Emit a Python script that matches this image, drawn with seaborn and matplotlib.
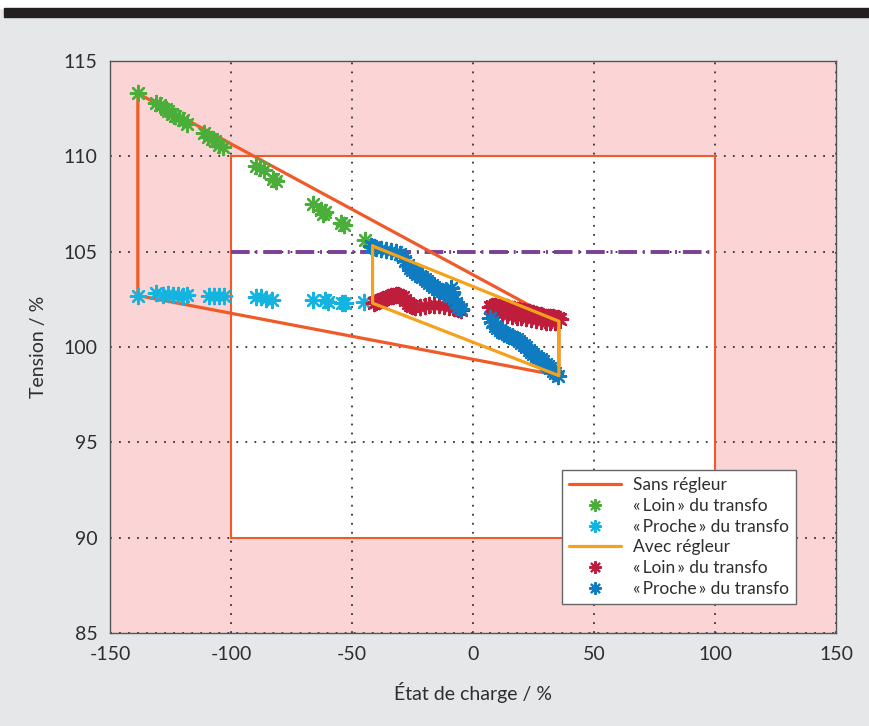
import numpy as np
import pandas as pd
import matplotlib
matplotlib.use('Agg')
import matplotlib.pyplot as plt
from matplotlib.patches import Rectangle
from matplotlib.lines import Line2D
import seaborn as sns

# polygon envelopes
sans_x = [-138.5, -138.5, 35.5, 35.5, -138.5]
sans_y = [113.3, 102.7, 98.5, 101.35, 113.3]
avec_x = [-41.5, -41.5, 35.5, 35.5, -41.5]
avec_y = [105.3, 102.3, 98.5, 101.35, 105.3]

# "Loin" sans regleur
green_x = [-138.5, -131, -129.5, -127, -126, -124.5, -123, -121.5, -120, -118,
           -111, -109.5, -108, -106.5, -105, -103.5, -89.5, -88, -86.5, -82.5,
           -81.5, -66, -63, -62, -61, -54.5, -53.5, -44.5]
green_y = [113.3, 112.8, 112.7, 112.5, 112.4, 112.2, 112.1, 112.0, 111.9, 111.7,
           111.2, 111.0, 110.9, 110.8, 110.6, 110.5, 109.5, 109.4, 109.3, 108.8,
           108.7, 107.5, 107.2, 107.0, 107.1, 106.5, 106.4, 105.6]

# "Proche" sans regleur
cyan_x = [-138.5, -131, -128, -126, -124, -122, -120, -118, -109, -107, -105, -103,
          -89.5, -87.5, -85.5, -83, -66, -61, -60, -54, -53, -45]
cyan_y = [102.7, 102.85, 102.75, 102.8, 102.75, 102.75, 102.7, 102.75, 102.7, 102.65,
          102.7, 102.7, 102.6, 102.6, 102.5, 102.45, 102.45, 102.45, 102.35, 102.3,
          102.3, 102.35]

# "Loin" avec regleur
red_x = [-41, -40, -39, -38, -37, -36, -35, -34, -33, -32, -31, -30, -29, -28, -27,
         -26, -25, -24, -22, -20, -18, -16, -14, -12, -10, -8, -6, -5,
         7, 8, 9, 10, 11, 12, 13, 14, 15, 16, 17, 18, 19, 20, 21, 22, 23, 24, 25,
         26, 27, 28, 29, 30, 31, 32, 33, 34, 35, 36,
         8, 10, 12, 14, 16, 18, 20, 22, 24, 26, 28, 30, 32, 34]
red_y = [102.3, 102.35, 102.4, 102.45, 102.5, 102.55, 102.6, 102.65, 102.7, 102.75,
         102.75, 102.7, 102.6, 102.45, 102.3, 102.2, 102.15, 102.1, 102.1, 102.15,
         102.2, 102.2, 102.2, 102.15, 102.1, 102.05, 102.0, 101.95,
         102.1, 102.15, 102.15, 102.1, 102.15, 102.1, 102.05, 102.1, 102.05, 102.0,
         102.0, 101.95, 101.95, 101.9, 101.9, 101.85, 101.85, 101.8, 101.8, 101.75,
         101.7, 101.7, 101.65, 101.6, 101.6, 101.55, 101.55, 101.5, 101.5, 101.45,
         101.8, 101.8, 101.75, 101.7, 101.65, 101.6, 101.55, 101.5, 101.45, 101.4,
         101.35, 101.3, 101.3, 101.3]

# "Proche" avec regleur
blue_x = [-42, -41, -40, -38, -36, -34, -32, -30, -29, -28, -27, -26, -25, -24, -23,
          -22, -21, -20, -19, -18, -17, -16, -15, -14, -13, -12, -11, -10, -9, -8.5,
          -8, -7, -6, -5,
          7, 8, 9, 10, 11, 12, 13, 14, 15, 16, 17, 18, 19, 20, 21, 22, 23, 24, 25,
          26, 27, 28, 29, 30, 31, 32, 33, 34, 35]
blue_y = [105.3, 105.25, 105.2, 105.15, 105.1, 105.05, 105.0, 104.9, 104.7, 104.5,
          104.3, 104.15, 104.05, 103.95, 103.85, 103.75, 103.65, 103.55, 103.45,
          103.35, 103.25, 103.15, 103.05, 103.0, 102.95, 102.9, 102.85, 102.7, 103.1,
          102.9, 102.5, 102.3, 102.1, 102.0,
          101.5, 101.3, 101.1, 101.0, 100.9, 100.8, 100.75, 100.7, 100.6, 100.5,
          100.45, 100.4, 100.3, 100.2, 100.1, 100.0, 99.85, 99.75, 99.65, 99.55,
          99.45, 99.35, 99.25, 99.1, 99.0, 98.9, 98.75, 98.65, 98.5]

ticks_x = [-150, -100, -50, 0, 50, 100, 150]
ticks_y = [85, 90, 95, 100, 105, 110, 115]

c_sans = '#f05a28'
c_avec = '#f7a11a'
c_green = '#4cae3a'
c_cyan = '#13b5e0'
c_red = '#be1e3c'
c_blue = '#0f7bc0'
c_purple = '#7b3f98'
pink = '#fbd5d5'
bg = '#e6e7e8'
txt = '#2e2e2e'

sns.set_style('white')
plt.rcParams['font.family'] = ['Lato', 'DejaVu Sans']
plt.rcParams['axes.unicode_minus'] = False

fig = plt.figure(figsize=(8.69, 7.26), dpi=100, facecolor=bg)
ax = fig.add_axes([0.1266, 0.128, 0.8354, 0.788])
fig.patches.append(Rectangle((0, 0.989), 1, 0.011, transform=fig.transFigure, color='white', zorder=0))
fig.patches.append(Rectangle((0.005, 0.9766), 0.995, 0.0124, transform=fig.transFigure, color='#231f20', zorder=1))

ax.set_facecolor(pink)
# white zone: fill below the grid, border above it
ax.add_patch(Rectangle((-100, 90), 200, 20, facecolor='white', edgecolor='none', zorder=1))
ax.add_patch(Rectangle((-100, 90), 200, 20, facecolor='none', edgecolor=c_sans, lw=1.5, zorder=1.8))

ax.set_axisbelow('line')
ax.grid(True, ls=(0, (1, 4)), color='#333333', lw=1.3)

ax.plot([-100, 100], [105, 105], color=c_purple, lw=2.8, ls=(0, (4.8, 1.5, 0.5, 1.5)), zorder=2)

mk = (8, 2, 0)
sns.lineplot(x=sans_x, y=sans_y, sort=False, color=c_sans, lw=2.3, ax=ax, estimator=None, zorder=3)
sns.scatterplot(x=green_x, y=green_y, color=c_green, marker=mk, s=120, linewidth=1.7, ax=ax, zorder=4)
sns.scatterplot(x=cyan_x, y=cyan_y, color=c_cyan, marker=mk, s=120, linewidth=1.7, ax=ax, zorder=4)
sns.scatterplot(x=red_x, y=red_y, color=c_red, marker=mk, s=120, linewidth=1.7, ax=ax, zorder=4)
sns.scatterplot(x=blue_x, y=blue_y, color=c_blue, marker=mk, s=120, linewidth=1.7, ax=ax, zorder=5)
sns.lineplot(x=avec_x, y=avec_y, sort=False, color=c_avec, lw=2.3, ax=ax, estimator=None, zorder=6)
for l in ax.lines:
    l.set_solid_joinstyle('round')

ax.set_xlim(-150, 150)
ax.set_ylim(85, 115)
ax.set_xticks(ticks_x)
ax.set_yticks(ticks_y)
ax.tick_params(length=0, labelsize=14, colors=txt, pad=9)
for s in ax.spines.values():
    s.set_color('#555555')
    s.set_linewidth(1.0)
ax.set_xlabel('État de charge / %', fontsize=14, color=txt, labelpad=14)
ax.set_ylabel('Tension / %', fontsize=14, color=txt, labelpad=12)

handles = [
    Line2D([], [], color=c_sans, lw=2.3),
    Line2D([], [], color=c_green, marker=mk, ls='none', ms=9, mew=1.5),
    Line2D([], [], color=c_cyan, marker=mk, ls='none', ms=9, mew=1.5),
    Line2D([], [], color=c_avec, lw=2.3),
    Line2D([], [], color=c_red, marker=mk, ls='none', ms=9, mew=1.5),
    Line2D([], [], color=c_blue, marker=mk, ls='none', ms=9, mew=1.5),
]
labels = ['Sans régleur', '«\u2009Loin\u2009» du transfo', '«\u2009Proche\u2009» du transfo',
          'Avec régleur', '«\u2009Loin\u2009» du transfo', '«\u2009Proche\u2009» du transfo']
leg = ax.legend(handles, labels, loc='lower right', bbox_to_anchor=(0.957, 0.036),
                fontsize=12.5, frameon=True, fancybox=False, framealpha=1,
                edgecolor='#666666', handlelength=3.0, labelspacing=0.27,
                borderpad=0.4, handletextpad=0.7)
leg.get_frame().set_linewidth(1.0)
for t in leg.get_texts():
    t.set_color(txt)
leg.set_zorder(10)

fig.savefig('out.png', dpi=100, facecolor=bg)
